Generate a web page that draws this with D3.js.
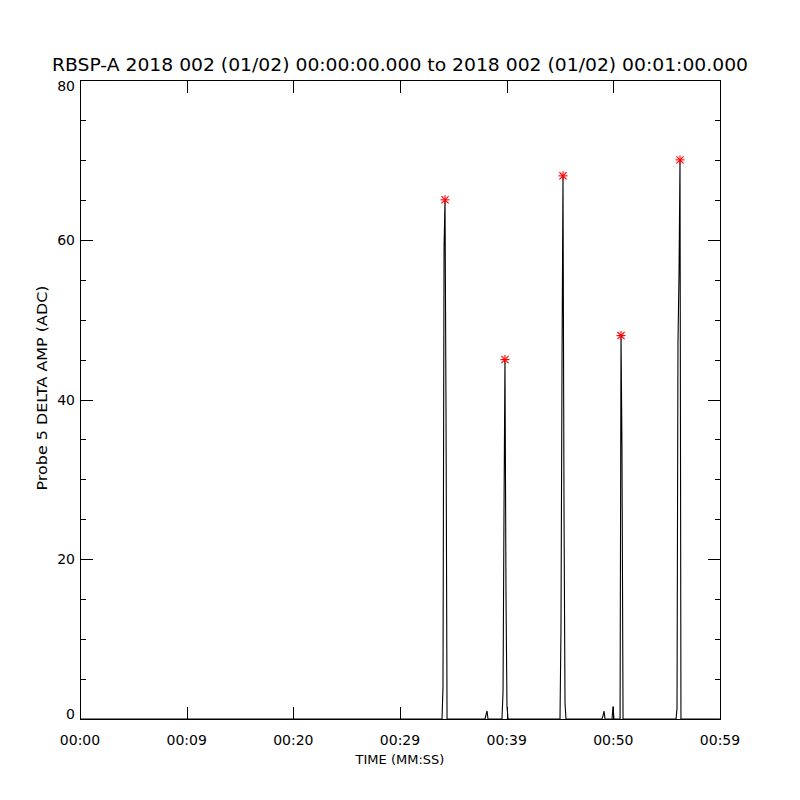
<!DOCTYPE html>
<html><head><meta charset="utf-8">
<script src="https://cdn.jsdelivr.net/npm/d3@7"></script>
<style>body{margin:0;background:#fff}svg{display:block}text{font-family:"DejaVu Sans",sans-serif;fill:#000}</style>
</head><body><svg id="c" width="800" height="800"></svg>
<script>
// Time in seconds since 00:00:00, amplitude in ADC
const times = [0, 33.94, 34.03, 34.13, 34.22, 34.31, 34.41,
  37.97, 38.06, 38.16, 38.25,
  39.56, 39.66, 39.75, 39.84, 39.94, 40.03, 40.13,
  45.00, 45.09, 45.19, 45.28, 45.38, 45.47, 45.56,
  48.94, 49.03, 49.13, 49.22,
  49.88, 49.97, 50.06,
  50.63, 50.72, 50.81, 50.91,
  55.88, 55.97, 56.06, 56.16, 56.25, 56.34, 59.99];
const values = [0, 0, 4, 59, 65, 40, 0,
  0, 0.5, 1, 0,
  0, 3.4, 26, 45, 15, 1.6, 0,
  0, 11, 45, 68, 25, 2, 0,
  0, 0.4, 1, 0,
  0, 1.6, 0,
  0, 48, 34, 0,
  0, 1.3, 47, 56, 70, 0, 0];
const peakTimes = [34.22, 39.84, 45.28, 50.72, 56.25];
const peakValues = [65, 45, 68, 48, 70];
const xTickValues = [0, 10, 20, 30, 40, 50, 60];
const xTickLabels = ["00:00", "00:09", "00:20", "00:29", "00:39", "00:50", "00:59"];
const yTickValues = [0, 20, 40, 60, 80];
const yMinorValues = d3.range(0, 81, 5);
const title = "RBSP-A 2018 002 (01/02) 00:00:00.000 to 2018 002 (01/02) 00:01:00.000";
const xTitle = "TIME (MM:SS)";
const yTitle = "Probe 5 DELTA AMP (ADC)";

const svg = d3.select("#c");
const L = 80, R = 720, T = 80, B = 719;
const x = d3.scaleLinear().domain([0, 60]).range([L, R]);
const y = d3.scaleLinear().domain([0, 80]).range([B, T]);

const g = svg.append("g").attr("shape-rendering", "crispEdges");
g.append("rect").attr("x", L + 0.5).attr("y", T + 0.5).attr("width", R - L).attr("height", B - T)
  .attr("fill", "none").attr("stroke", "#000");

yMinorValues.forEach(v => {
  const major = v % 20 === 0;
  const len = major ? 13 : 6;
  const yy = Math.round(y(v)) + 0.5;
  g.append("line").attr("x1", L).attr("x2", L + len).attr("y1", yy).attr("y2", yy).attr("stroke", "#000");
  g.append("line").attr("x1", R + 1).attr("x2", R + 1 - len).attr("y1", yy).attr("y2", yy).attr("stroke", "#000");
});
xTickValues.forEach(v => {
  const xx = Math.round(x(v)) + 0.5;
  g.append("line").attr("x1", xx).attr("x2", xx).attr("y1", B + 1).attr("y2", B + 1 - 13).attr("stroke", "#000");
  g.append("line").attr("x1", xx).attr("x2", xx).attr("y1", T).attr("y2", T + 13).attr("stroke", "#000");
});

yTickValues.forEach(v => {
  let yy = y(v) + 5;
  if (v === 80) yy = y(v) + 11;
  if (v === 0) yy = y(v) + 0;
  svg.append("text").attr("x", 75).attr("y", yy).attr("text-anchor", "end")
    .attr("font-size", 14).text(v);
});
xTickValues.forEach((v, i) => {
  svg.append("text").attr("x", x(v)).attr("y", 745).attr("text-anchor", "middle")
    .attr("font-size", 14).text(xTickLabels[i]);
});

svg.append("text").attr("x", 400).attr("y", 71).attr("text-anchor", "middle")
  .attr("font-size", 17).attr("textLength", 696).attr("lengthAdjust", "spacingAndGlyphs").text(title);
svg.append("text").attr("x", 400).attr("y", 764).attr("text-anchor", "middle")
  .attr("font-size", 13).text(xTitle);
svg.append("text").attr("transform", "translate(47,388) rotate(-90)").attr("text-anchor", "middle")
  .attr("font-size", 14).attr("textLength", 205).attr("lengthAdjust", "spacingAndGlyphs").text(yTitle);

const line = d3.line().x((d, i) => x(times[i])).y((d, i) => y(values[i]));
svg.append("path").datum(values).attr("d", line).attr("fill", "none")
  .attr("stroke", "#000").attr("stroke-width", 1.1);

const s = 4.5;
peakTimes.forEach((t, i) => {
  const cx = x(t), cy = y(peakValues[i]);
  const a = svg.append("g").attr("stroke", "#ff0000").attr("stroke-width", 1.1);
  a.append("line").attr("x1", cx - s).attr("x2", cx + s).attr("y1", cy).attr("y2", cy);
  a.append("line").attr("x1", cx).attr("x2", cx).attr("y1", cy - s).attr("y2", cy + s);
  a.append("line").attr("x1", cx - s * 0.8).attr("x2", cx + s * 0.8).attr("y1", cy - s * 0.8).attr("y2", cy + s * 0.8);
  a.append("line").attr("x1", cx - s * 0.8).attr("x2", cx + s * 0.8).attr("y1", cy + s * 0.8).attr("y2", cy - s * 0.8);
});
</script></body></html>
